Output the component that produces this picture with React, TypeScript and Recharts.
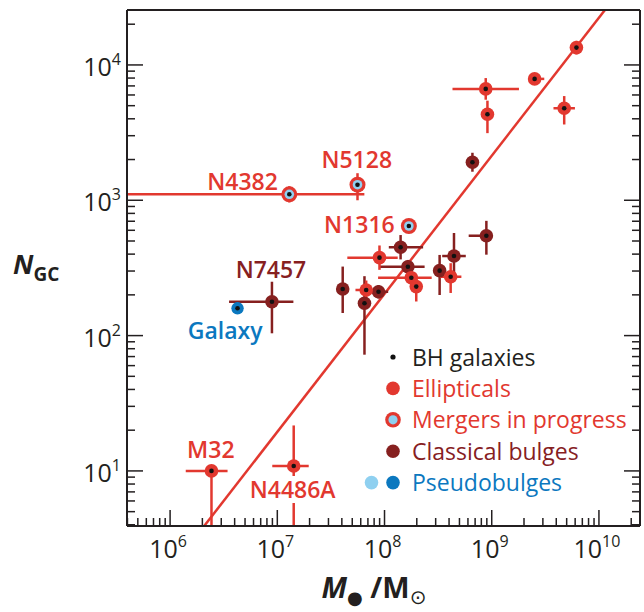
import React from "react";
import { ScatterChart, Scatter, XAxis, YAxis, ErrorBar, ReferenceLine } from "recharts";

const RED = "#e2382f";
const DARK = "#86201f";
const BLUE = "#0b78bf";
const LIGHT = "#8fd0f0";
const INK = "#231f20";
const FONT = '"Open Sans", "DejaVu Sans", sans-serif';

// log10(M_BH / Msun), log10(N_GC); errors in dex as [low, high]
const ellipticals = [
  { x: 9.79, y: 4.128, ex: [0, 0], ey: [0.05, 0.05] },
  { x: 9.4, y: 3.897, ex: [0, 0.09], ey: [0, 0] },
  { x: 8.944, y: 3.823, ex: [0.31, 0.31], ey: [0.08, 0.08] },
  { x: 8.96, y: 3.636, ex: [0, 0], ey: [0.14, 0.1] },
  { x: 9.676, y: 3.68, ex: [0.1, 0.1], ey: [0.12, 0.09] },
  { x: 7.953, y: 2.576, ex: [0.3, 0.17], ey: [0.09, 0.09] },
  { x: 8.25, y: 2.428, ex: [0.31, 0.19], ey: [0.05, 0.05] },
  { x: 8.617, y: 2.435, ex: [0.1, 0.1], ey: [0.12, 0.1] },
  { x: 8.296, y: 2.362, ex: [0.05, 0.05], ey: [0.11, 0.06] },
  { x: 7.829, y: 2.337, ex: [0.1, 0.12], ey: [0.07, 0.07] },
  { x: 6.386, y: 1.0, ex: [0.24, 0.15], ey: [0.407, 0] },
  { x: 7.153, y: 1.036, ex: [0.2, 0.14], ey: [0.443, 0.3] },
];

const classical = [
  { x: 8.82, y: 3.281, ex: [0, 0], ey: [0.07, 0.07] },
  { x: 8.95, y: 2.738, ex: [0.165, 0.03], ey: [0.14, 0.11] },
  { x: 8.15, y: 2.653, ex: [0.11, 0.21], ey: [0.09, 0.09] },
  { x: 8.648, y: 2.588, ex: [0.11, 0.11], ey: [0.18, 0.17] },
  { x: 8.218, y: 2.509, ex: [0.265, 0.156], ey: [0.05, 0.05] },
  { x: 8.514, y: 2.48, ex: [0, 0], ey: [0.18, 0.116] },
  { x: 7.61, y: 2.344, ex: [0, 0], ey: [0.177, 0.166] },
  { x: 7.944, y: 2.324, ex: [0.05, 0.09], ey: [0.05, 0.05] },
  { x: 7.813, y: 2.239, ex: [0.05, 0.05], ey: [0.38, 0.2] },
  { x: 6.95, y: 2.25, ex: [0.4, 0.2], ey: [0.233, 0.148] },
];

const mergers = [
  { x: 7.112, y: 3.044, ex: [1.514, 0.7], ey: [0.06, 0.06] },
  { x: 7.748, y: 3.115, ex: [0, 0], ey: [0.115, 0.085] },
  { x: 8.227, y: 2.81, ex: [0, 0], ey: [0, 0] },
];

const pseudobulges = [{ x: 6.629, y: 2.202 }];

const labels = [
  { x: 6.676, y: 3.138, text: "N4382", color: RED },
  { x: 7.741, y: 3.298, text: "N5128", color: RED },
  { x: 7.766, y: 2.817, text: "N1316", color: RED },
  { x: 6.941, y: 2.485, text: "N7457", color: DARK },
  { x: 6.514, y: 2.034, text: "Galaxy", color: BLUE },
  { x: 6.38, y: 1.154, text: "M32", color: RED },
  { x: 7.143, y: 0.859, text: "N4486A", color: RED, halo: true },
];

// fitted relation, where it meets the frame
const fit = [
  { x: 6.318, y: 0.593 },
  { x: 10.056, y: 4.406 },
];

const xMajor = [6, 7, 8, 9, 10];
const yMajor = [1, 2, 3, 4];
const xDomain = [5.598, 10.383];
const yDomain = [0.593, 4.406];

const legendItems = [
  { label: "BH galaxies", color: INK, kind: "bh" },
  { label: "Ellipticals", color: RED, kind: "ell" },
  { label: "Mergers in progress", color: RED, kind: "merger" },
  { label: "Classical bulges", color: DARK, kind: "classical" },
  { label: "Pseudobulges", color: BLUE, kind: "pseudo" },
];

function logTicks(majors: number[], domain: number[]) {
  const out: number[] = [];
  for (let n = majors[0] - 1; n <= majors[majors.length - 1]; n++) {
    for (let k = 1; k <= 9; k++) {
      const v = n + Math.log10(k);
      if (v >= domain[0] && v <= domain[1]) out.push(v);
    }
  }
  return out;
}
const xTicks = logTicks(xMajor, xDomain);
const yTicks = logTicks(yMajor, yDomain);

const isMajor = (v: number) => Math.abs(v - Math.round(v)) < 1e-6;

function Pow({ x, y, v, anchor }: any) {
  return (
    <text x={x} y={y} textAnchor={anchor} fontSize={25} fill={INK} fontFamily={FONT}>
      10<tspan fontSize={16} dy={-11}>{Math.round(v)}</tspan>
    </text>
  );
}

function BottomTick({ x, y, payload }: any) {
  const m = isMajor(payload.value);
  return (
    <g>
      <line x1={x} x2={x} y1={y} y2={y - (m ? 16 : 8)} stroke={INK} strokeWidth={1.5} />
      {m && <Pow x={x - 2} y={y + 32} v={payload.value} anchor="middle" />}
    </g>
  );
}

function TopTick({ x, y, payload }: any) {
  const m = isMajor(payload.value);
  return <line x1={x} x2={x} y1={y} y2={y + (m ? 16 : 8)} stroke={INK} strokeWidth={1.5} />;
}

function LeftTick({ x, y, payload }: any) {
  const m = isMajor(payload.value);
  return (
    <g>
      <line x1={x} x2={x + (m ? 16 : 8)} y1={y} y2={y} stroke={INK} strokeWidth={1.5} />
      {m && <Pow x={x - 6} y={y + 11} v={payload.value} anchor="end" />}
    </g>
  );
}

function RightTick({ x, y, payload }: any) {
  const m = isMajor(payload.value);
  return <line x1={x} x2={x - (m ? 16 : 8)} y1={y} y2={y} stroke={INK} strokeWidth={1.5} />;
}

const filled = (color: string, r: number) => (p: any) =>
  (
    <g>
      <circle cx={p.cx} cy={p.cy} r={r} fill={color} />
      <circle cx={p.cx} cy={p.cy} r={2.3} fill="#111" />
    </g>
  );

const mergerShape = (p: any) => (
  <g>
    <circle cx={p.cx} cy={p.cy} r={8} fill={RED} />
    <circle cx={p.cx} cy={p.cy} r={4.8} fill={LIGHT} />
    <circle cx={p.cx} cy={p.cy} r={2.3} fill="#111" />
  </g>
);

const labelShape = (p: any) => {
  const d = p.payload;
  return (
    <text
      x={p.cx}
      y={p.cy + 8}
      textAnchor="middle"
      fontSize={23}
      fontWeight={600}
      fill={d.color}
      fontFamily={FONT}
      stroke={d.halo ? "#fff" : "none"}
      strokeWidth={d.halo ? 10 : 0}
      paintOrder="stroke"
    >
      {d.text}
    </text>
  );
};

function LegendMark({ kind, cx, cy }: any) {
  if (kind === "bh") return <circle cx={cx} cy={cy} r={2.6} fill="#111" />;
  if (kind === "ell") return <circle cx={cx} cy={cy} r={6.8} fill={RED} />;
  if (kind === "classical") return <circle cx={cx} cy={cy} r={6.8} fill={DARK} />;
  if (kind === "merger")
    return (
      <g>
        <circle cx={cx} cy={cy} r={7.8} fill={RED} />
        <circle cx={cx} cy={cy} r={4.6} fill={LIGHT} />
      </g>
    );
  return (
    <g>
      <circle cx={cx - 21.5} cy={cy} r={6.8} fill={LIGHT} />
      <circle cx={cx} cy={cy} r={6.8} fill={BLUE} />
    </g>
  );
}

export default function App() {
  const bar = { strokeWidth: 2.5, width: 0 };
  return (
    <div style={{ position: "absolute", left: 0, top: 0, width: 644, height: 612, background: "#fff", fontFamily: FONT }}>
      <ScatterChart width={644} height={612} margin={{ top: 0, right: 0, bottom: 0, left: 0 }}>
        <XAxis
          type="number"
          dataKey="x"
          domain={xDomain}
          ticks={xTicks}
          interval={0}
          allowDataOverflow
          height={86}
          tickSize={0}
          tickMargin={0}
          tickLine={false}
          tick={<BottomTick />}
          axisLine={{ stroke: INK, strokeWidth: 2 }}
        />
        <XAxis
          xAxisId="top"
          orientation="top"
          type="number"
          domain={xDomain}
          ticks={xTicks}
          interval={0}
          allowDataOverflow
          height={10}
          tickSize={0}
          tickMargin={0}
          tickLine={false}
          tick={<TopTick />}
          axisLine={{ stroke: INK, strokeWidth: 2 }}
        />
        <YAxis
          type="number"
          dataKey="y"
          domain={yDomain}
          ticks={yTicks}
          interval={0}
          allowDataOverflow
          width={127}
          tickSize={0}
          tickMargin={0}
          tickLine={false}
          tick={<LeftTick />}
          axisLine={{ stroke: INK, strokeWidth: 2 }}
        />
        <YAxis
          yAxisId="right"
          orientation="right"
          type="number"
          domain={yDomain}
          ticks={yTicks}
          interval={0}
          allowDataOverflow
          width={4}
          tickSize={0}
          tickMargin={0}
          tickLine={false}
          tick={<RightTick />}
          axisLine={{ stroke: INK, strokeWidth: 2 }}
        />
        <ReferenceLine segment={fit} stroke={RED} strokeWidth={2.5} ifOverflow="hidden" />
        <Scatter data={classical} shape={filled(DARK, 6.8)} isAnimationActive={false}>
          <ErrorBar dataKey="ex" direction="x" stroke={DARK} {...bar} />
          <ErrorBar dataKey="ey" direction="y" stroke={DARK} {...bar} />
        </Scatter>
        <Scatter data={ellipticals} shape={filled(RED, 6.8)} isAnimationActive={false}>
          <ErrorBar dataKey="ex" direction="x" stroke={RED} {...bar} />
          <ErrorBar dataKey="ey" direction="y" stroke={RED} {...bar} />
        </Scatter>
        <Scatter data={mergers} shape={mergerShape} isAnimationActive={false}>
          <ErrorBar dataKey="ex" direction="x" stroke={RED} {...bar} />
          <ErrorBar dataKey="ey" direction="y" stroke={RED} {...bar} />
        </Scatter>
        <Scatter data={pseudobulges} shape={filled(BLUE, 6.2)} isAnimationActive={false} />
        <Scatter data={labels} shape={labelShape} isAnimationActive={false} />
      </ScatterChart>
      <svg width={644} height={612} style={{ position: "absolute", left: 0, top: 0, pointerEvents: "none" }}>
        <text x={13} y={274} fontFamily={FONT} fill={INK} fontWeight={700}>
          <tspan fontSize={27} fontStyle="italic">N</tspan>
          <tspan fontSize={19} dy={7}>GC</tspan>
        </text>
        <text x={374} y={598} textAnchor="middle" fontFamily={FONT} fill={INK} fontWeight={700}>
          <tspan fontSize={29} fontStyle="italic">M</tspan>
          <tspan fontSize={18} dy={6}>●</tspan>
          <tspan fontSize={29} dy={-6}> /M</tspan>
          <tspan fontSize={20} dy={6} fontWeight={400}>⊙</tspan>
        </text>
        {legendItems.map((it, i) => {
          const cy = 357 + i * 31.4;
          return (
            <g key={it.label}>
              <LegendMark kind={it.kind} cx={393} cy={cy} />
              <text x={412} y={cy + 8.5} fontSize={23} fill={it.color} fontFamily={FONT}>
                {it.label}
              </text>
            </g>
          );
        })}
      </svg>
    </div>
  );
}
